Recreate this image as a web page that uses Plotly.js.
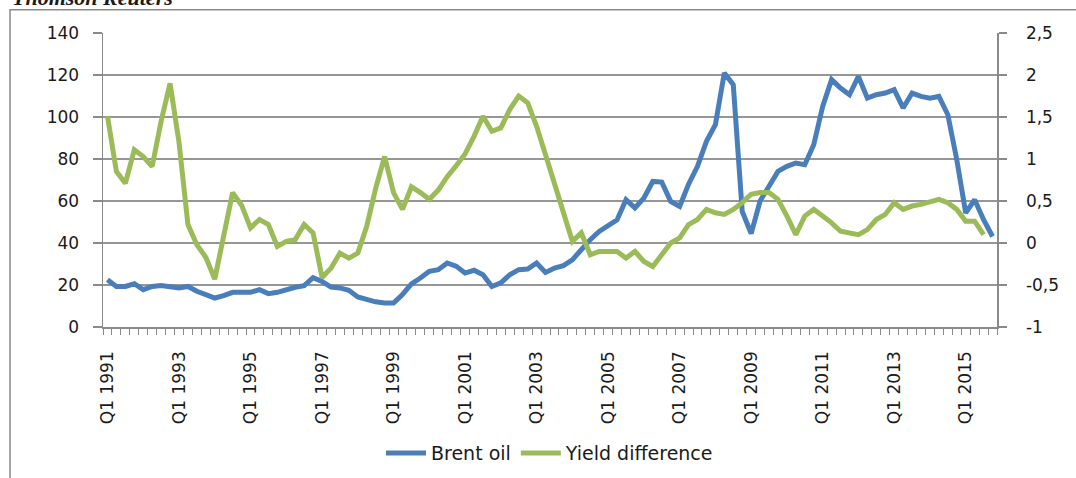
<!DOCTYPE html>
<html>
<head>
<meta charset="utf-8">
<script src="https://cdn.plot.ly/plotly-3.0.1.min.js"></script>
<style>
  html, body { margin: 0; padding: 0; background: #fff; }
  #chart { width: 1076px; height: 478px; }
</style>
</head>
<body>
<div id="chart"></div>
<script>
const categories = [
  "Q1 1991","Q2 1991","Q3 1991","Q4 1991","Q1 1992","Q2 1992","Q3 1992","Q4 1992",
  "Q1 1993","Q2 1993","Q3 1993","Q4 1993","Q1 1994","Q2 1994","Q3 1994","Q4 1994",
  "Q1 1995","Q2 1995","Q3 1995","Q4 1995","Q1 1996","Q2 1996","Q3 1996","Q4 1996",
  "Q1 1997","Q2 1997","Q3 1997","Q4 1997","Q1 1998","Q2 1998","Q3 1998","Q4 1998",
  "Q1 1999","Q2 1999","Q3 1999","Q4 1999","Q1 2000","Q2 2000","Q3 2000","Q4 2000",
  "Q1 2001","Q2 2001","Q3 2001","Q4 2001","Q1 2002","Q2 2002","Q3 2002","Q4 2002",
  "Q1 2003","Q2 2003","Q3 2003","Q4 2003","Q1 2004","Q2 2004","Q3 2004","Q4 2004",
  "Q1 2005","Q2 2005","Q3 2005","Q4 2005","Q1 2006","Q2 2006","Q3 2006","Q4 2006",
  "Q1 2007","Q2 2007","Q3 2007","Q4 2007","Q1 2008","Q2 2008","Q3 2008","Q4 2008",
  "Q1 2009","Q2 2009","Q3 2009","Q4 2009","Q1 2010","Q2 2010","Q3 2010","Q4 2010",
  "Q1 2011","Q2 2011","Q3 2011","Q4 2011","Q1 2012","Q2 2012","Q3 2012","Q4 2012",
  "Q1 2013","Q2 2013","Q3 2013","Q4 2013","Q1 2014","Q2 2014","Q3 2014","Q4 2014",
  "Q1 2015","Q2 2015","Q3 2015","Q4 2015"
];

const brentOil = [
  22.5, 19.3, 19.3, 20.6, 17.8, 19.3, 19.8, 19.3,
  18.6, 19.3, 17.0, 15.4, 13.8, 14.9, 16.5, 16.5,
  16.5, 17.8, 15.9, 16.5, 17.8, 18.9, 19.7, 23.5,
  21.7, 19.0, 18.6, 17.5, 14.3, 13.0, 12.0, 11.4,
  11.4, 15.5, 20.5, 23.3, 26.5, 27.3, 30.5, 29.0,
  25.7, 27.0, 24.9, 19.3, 21.0, 24.9, 27.3, 27.6,
  30.5, 26.0, 28.1, 29.2, 32.0, 36.8, 41.6, 45.5,
  48.0, 51.0, 60.6, 56.7, 61.4, 69.3, 69.0, 59.8,
  57.4, 68.0, 76.5, 88.4, 96.3, 121.0, 115.4, 55.0,
  44.5, 60.0, 67.0, 74.1, 76.5, 78.1, 77.3, 86.8,
  105.0, 117.8, 113.8, 110.6, 119.3, 109.0, 110.6, 111.4,
  113.0, 104.3, 111.4, 109.8, 109.0, 109.8, 101.1, 79.7,
  54.3, 60.6, 51.1, 43.1
];

const yieldDifference = [
  1.51, 0.85, 0.71, 1.11, 1.03, 0.91, 1.45, 1.90,
  1.20, 0.22, -0.02, -0.17, -0.43, 0.08, 0.60, 0.45,
  0.18, 0.28, 0.22, -0.04, 0.02, 0.04, 0.22, 0.12,
  -0.41, -0.30, -0.12, -0.18, -0.12, 0.20, 0.65, 1.03,
  0.60, 0.40, 0.67, 0.60, 0.52, 0.63, 0.79, 0.92,
  1.06, 1.27, 1.51, 1.33, 1.37, 1.59, 1.75, 1.67,
  1.39, 1.05, 0.70, 0.35, 0.02, 0.12, -0.14, -0.10,
  -0.10, -0.10, -0.18, -0.10, -0.22, -0.28, -0.14, 0.00,
  0.06, 0.22, 0.28, 0.40, 0.36, 0.34, 0.40, 0.48,
  0.58, 0.60, 0.60, 0.52, 0.32, 0.10, 0.32, 0.40,
  0.32, 0.24, 0.14, 0.12, 0.10, 0.16, 0.28, 0.34,
  0.48, 0.40, 0.44, 0.46, 0.49, 0.52, 0.48, 0.40,
  0.26, 0.26, 0.10, null
];

const leftTicks = [0, 20, 40, 60, 80, 100, 120, 140];
const rightTicks = [-1, -0.5, 0, 0.5, 1, 1.5, 2, 2.5];
const rightTickText = ["-1", "-0,5", "0", "0,5", "1", "1,5", "2", "2,5"];
const labelEvery = 8;

const xIdx = categories.map((c, i) => i);
const tickIdx = xIdx.filter(i => i % labelEvery === 0);
const tickText = tickIdx.map(i => categories[i]);

const axisGray = '#8a8a8a';
const tickFont = { family: 'DejaVu Sans, Verdana, sans-serif', size: 17, color: '#1a1a1a' };

const traces = [
  {
    x: xIdx, y: brentOil, name: 'Brent oil', type: 'scatter', mode: 'lines',
    line: { color: '#4A7EBB', width: 5 }, yaxis: 'y', hoverinfo: 'skip'
  },
  {
    x: xIdx, y: yieldDifference, name: 'Yield difference', type: 'scatter', mode: 'lines',
    line: { color: '#9BBB59', width: 5 }, yaxis: 'y2', hoverinfo: 'skip'
  }
];

const layout = {
  width: 1076, height: 478,
  margin: { l: 103, r: 79, t: 33, b: 151, autoexpand: false },
  paper_bgcolor: '#ffffff', plot_bgcolor: '#ffffff',
  showlegend: true,
  legend: {
    orientation: 'h', xref: 'paper', x: 0.5, xanchor: 'center',
    yref: 'container', y: 0.052, yanchor: 'middle',
    font: { family: 'DejaVu Sans, sans-serif', size: 19, color: '#1a1a1a' },
    itemwidth: 40, traceorder: 'normal'
  },
  xaxis: {
    type: 'linear', range: [-0.5, 99.5], fixedrange: true,
    tickmode: 'array', tickvals: tickIdx, ticktext: tickText,
    tickangle: -90, tickfont: tickFont, ticks: '', ticklabelstandoff: 16,
    showgrid: false, zeroline: false,
    showline: true, linecolor: axisGray, linewidth: 1.5,
    minor: { tick0: 0.5, dtick: 1, ticks: 'outside', ticklen: 6, tickwidth: 1, tickcolor: axisGray, showgrid: false }
  },
  yaxis: {
    range: [0, 140], tickmode: 'array', tickvals: leftTicks, fixedrange: true,
    ticks: 'outside', ticklen: 9, tickwidth: 1.5, tickcolor: axisGray,
    tickfont: tickFont, ticklabelstandoff: 10,
    showgrid: true, gridcolor: '#969696', gridwidth: 1.5,
    zeroline: false, showline: true, linecolor: axisGray, linewidth: 1.5
  },
  yaxis2: {
    overlaying: 'y', side: 'right', range: [-1, 2.5], fixedrange: true,
    tickmode: 'array', tickvals: rightTicks, ticktext: rightTickText,
    ticks: 'outside', ticklen: 8, tickwidth: 1.5, tickcolor: axisGray,
    tickfont: tickFont, ticklabelstandoff: 16,
    showgrid: false, zeroline: false, showline: true, linecolor: axisGray, linewidth: 1.5
  },
  shapes: [
    {
      type: 'rect', xref: 'paper', yref: 'paper',
      x0: -0.104, x1: 1.1, y0: -0.6, y1: 1.079,
      line: { color: '#8a8a8a', width: 1.5 }, fillcolor: 'rgba(0,0,0,0)', layer: 'below'
    }
  ],
  annotations: [
    {
      text: 'Thomson Reuters', xref: 'paper', yref: 'paper',
      x: -0.104, xanchor: 'left', y: 1.07, yanchor: 'bottom', showarrow: false,
      font: { family: 'Liberation Serif, Times New Roman, serif', size: 22, color: '#1a1a1a', style: 'italic', weight: 'bold' }
    }
  ]
};

Plotly.newPlot('chart', traces, layout, { displayModeBar: false, staticPlot: true });
</script>
</body>
</html>
